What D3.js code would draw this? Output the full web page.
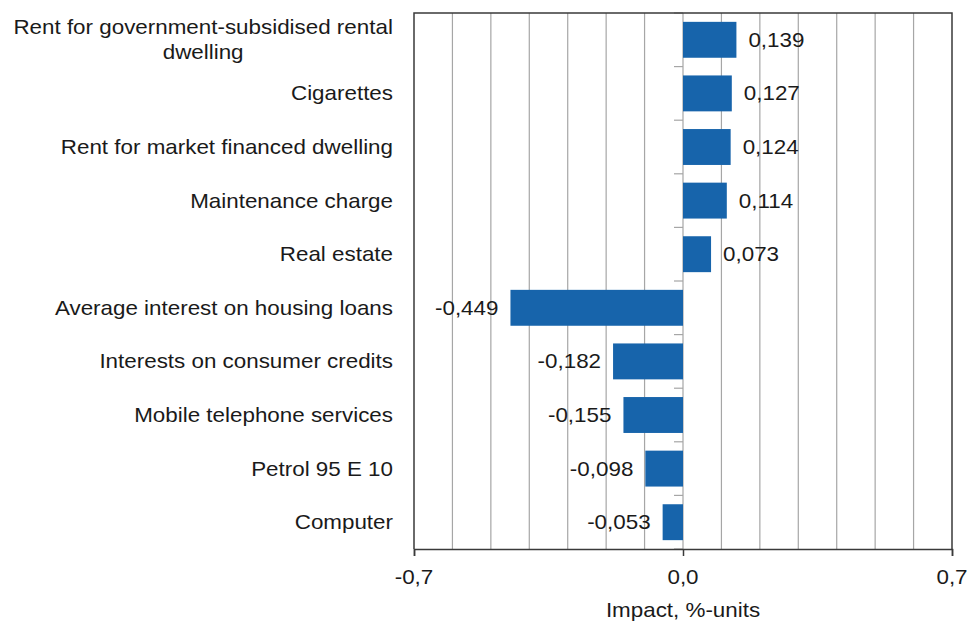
<!DOCTYPE html>
<html>
<head>
<meta charset="utf-8">
<script src="https://cdn.jsdelivr.net/npm/d3@7"></script>
<style>
  body { margin: 0; background: #fff; }
  text { font-family: "Liberation Sans", Arial, sans-serif; fill: #1a1a1a; }
</style>
</head>
<body>
<svg id="chart" width="969" height="623"></svg>
<script>
const categories = [
  'Rent for government-subsidised rental dwelling',
  'Cigarettes',
  'Rent for market financed dwelling',
  'Maintenance charge',
  'Real estate',
  'Average interest on housing loans',
  'Interests on consumer credits',
  'Mobile telephone services',
  'Petrol 95 E 10',
  'Computer'
];
const values = [0.139, 0.127, 0.124, 0.114, 0.073, -0.449, -0.182, -0.155, -0.098, -0.053];
const xTicks = [-0.7, 0, 0.7];
const gridTicks = [-0.6, -0.5, -0.4, -0.3, -0.2, -0.1, 0.1, 0.2, 0.3, 0.4, 0.5, 0.6];
const axisTitle = 'Impact, %-units';

const margin = {top: 13, right: 17, bottom: 74, left: 414};
const width = 969, height = 623;
const stretch = 1.12;
const fontSize = 20;
const barColor = '#1764ab';

const locale = d3.formatLocale({decimal: ',', thousands: ' ', grouping: [3], currency: ['', ''], minus: '-'});
const fmt1 = locale.format('.1f');
const fmt3 = locale.format('.3f');

const svg = d3.select('#chart');

const x = d3.scaleLinear()
  .domain([-0.7, 0.7])
  .range([margin.left, width - margin.right]);

const y = d3.scaleBand()
  .domain(categories)
  .range([margin.top, height - margin.bottom])
  .paddingInner(0.33)
  .paddingOuter(0.165);

// stretched text helper (the original font renders wider than Arial)
function label(g, tx, ty, txt, anchor) {
  const s = g.append('g').attr('transform', `translate(${tx},${ty}) scale(${stretch},1)`);
  return s.append('text')
    .attr('text-anchor', anchor)
    .attr('font-size', fontSize)
    .text(txt);
}

// gridlines
svg.append('g')
  .selectAll('line')
  .data(gridTicks)
  .join('line')
    .attr('x1', d => x(d)).attr('x2', d => x(d))
    .attr('y1', margin.top).attr('y2', height - margin.bottom)
    .attr('stroke', '#a6a6a6')
    .attr('stroke-width', 1.2);

// zero line with category ticks
const bounds = categories.map(c => y(c) - y.step() * y.paddingInner() / 2);
bounds.push(height - margin.bottom);
svg.append('line')
  .attr('x1', x(0)).attr('x2', x(0))
  .attr('y1', margin.top).attr('y2', height - margin.bottom)
  .attr('stroke', '#a6a6a6').attr('stroke-width', 1.2);
svg.append('g')
  .selectAll('line')
  .data(bounds)
  .join('line')
    .attr('x1', x(0) - 9).attr('x2', x(0))
    .attr('y1', d => d).attr('y2', d => d)
    .attr('stroke', '#a6a6a6').attr('stroke-width', 1.2);

// bars
svg.append('g')
  .selectAll('rect')
  .data(values)
  .join('rect')
    .attr('x', d => x(Math.min(0, d)))
    .attr('width', d => Math.abs(x(d) - x(0)))
    .attr('y', (d, i) => y(categories[i]))
    .attr('height', y.bandwidth())
    .attr('fill', barColor);

// frame
const frame = svg.append('g').attr('stroke', '#3a3a3a').attr('stroke-width', 1.5).attr('fill', 'none');
frame.append('path')
  .attr('d', `M${x(-0.7)},${height - margin.bottom}V${margin.top}H${x(0.7)}V${height - margin.bottom}`);

// bottom axis
const xAxis = svg.append('g')
  .attr('transform', `translate(0,${height - margin.bottom})`)
  .call(d3.axisBottom(x).tickValues(xTicks).tickSize(7).tickFormat(''));
xAxis.select('.domain').attr('stroke', '#3a3a3a').attr('stroke-width', 1.5);
xAxis.selectAll('.tick line').attr('stroke', '#3a3a3a').attr('stroke-width', 1.5);

const tickLabels = svg.append('g');
xTicks.forEach(t => label(tickLabels, x(t), 584, fmt1(t), 'middle'));

label(svg, x(0), 617, axisTitle, 'middle');

// value labels
const valueLabels = svg.append('g');
values.forEach((v, i) => {
  const cy = y(categories[i]) + y.bandwidth() / 2 + 7;
  if (v >= 0) label(valueLabels, x(v) + 12, cy, fmt3(v), 'start');
  else label(valueLabels, x(v) - 12, cy, fmt3(v), 'end');
});

// category labels (wrapped, right aligned block, lines centred)
const catLabels = svg.append('g');
const maxW = 360;
categories.forEach(c => {
  const cy = y(c) + y.bandwidth() / 2;
  const words = c.split(' ');
  const probe = svg.append('text').attr('font-size', fontSize);
  const lines = [];
  let line = [];
  words.forEach(w => {
    line.push(w);
    probe.text(line.join(' '));
    if (probe.node().getComputedTextLength() > maxW && line.length > 1) {
      line.pop();
      lines.push(line.join(' '));
      line = [w];
    }
  });
  lines.push(line.join(' '));
  const widths = lines.map(l => { probe.text(l); return probe.node().getComputedTextLength(); });
  probe.remove();
  const lh = 25;
  const first = cy + 7 - (lines.length - 1) * lh / 2;
  if (lines.length === 1) {
    label(catLabels, 393, first, lines[0], 'end');
  } else {
    const bw = d3.max(widths) * stretch;
    lines.forEach((l, k) => label(catLabels, 393 - bw / 2, first + k * lh, l, 'middle'));
  }
});
</script>
</body>
</html>
